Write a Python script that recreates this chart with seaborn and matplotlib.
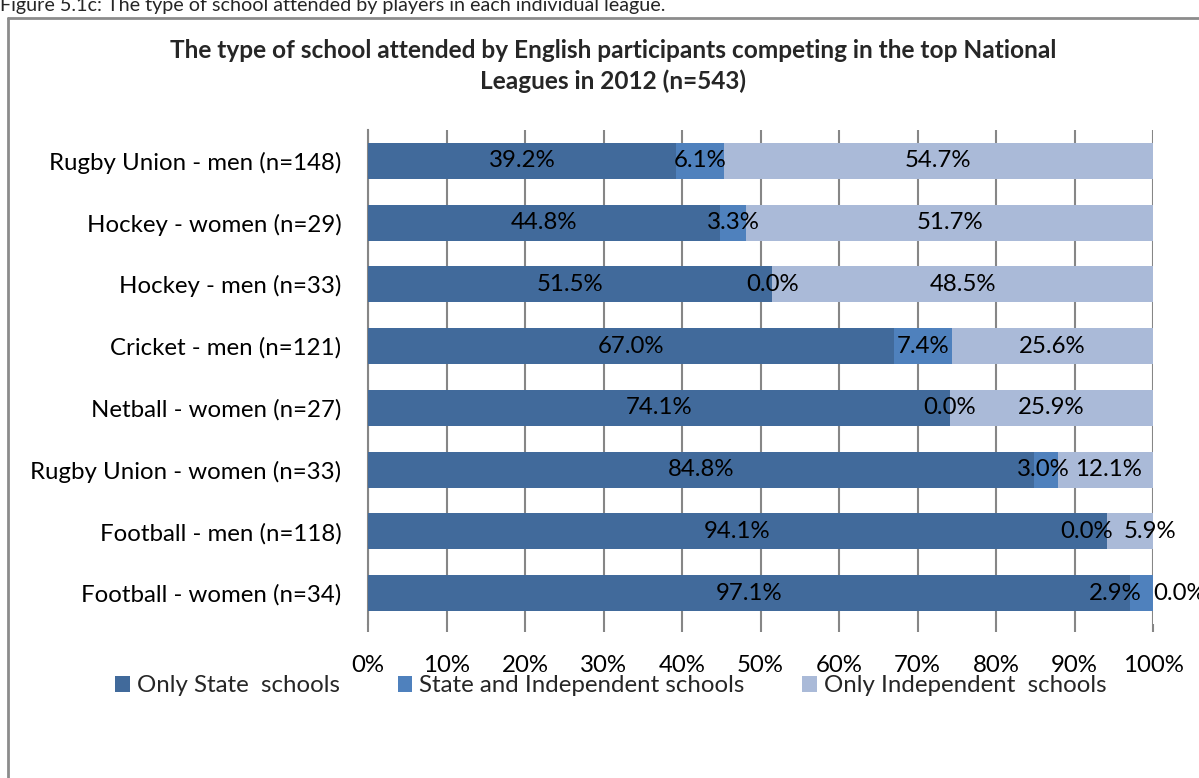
import matplotlib
matplotlib.use("Agg")
import matplotlib.pyplot as plt
import seaborn as sns
import pandas as pd
import numpy as np
from matplotlib.patches import Patch
from matplotlib.lines import Line2D

categories = ["Rugby Union - men (n=148)", "Hockey - women (n=29)", "Hockey - men (n=33)",
              "Cricket - men (n=121)", "Netball - women (n=27)", "Rugby Union - women (n=33)",
              "Football - men (n=118)", "Football - women (n=34)"]
only_state = [39.2, 44.8, 51.5, 67.0, 74.1, 84.8, 94.1, 97.1]
state_and_indep = [6.1, 3.3, 0.0, 7.4, 0.0, 3.0, 0.0, 2.9]
only_indep = [54.7, 51.7, 48.5, 25.6, 25.9, 12.1, 5.9, 0.0]
series_names = ["Only State  schools", "State and Independent schools", "Only Independent  schools"]
xticks = [0, 10, 20, 30, 40, 50, 60, 70, 80, 90, 100]

colors = ["#416A9B", "#4F81BD", "#AABAD8"]

sns.set_theme(style="white")
plt.rcParams['font.family'] = ['Lato', 'DejaVu Sans']

FS = 17.3
W, H = 1199, 778
fig = plt.figure(figsize=(W / 100, H / 100), dpi=100)
ax = fig.add_axes([368 / W, 1 - 624 / H, (1153 - 368) / W, (624 - 130) / H])

vals = np.array([only_state, state_and_indep, only_indep], dtype=float)
tot = vals.sum(axis=0)
norm = vals / tot * 100
cum = np.cumsum(norm, axis=0)

# draw cumulative totals, largest first, to produce stacked bars
for i in [2, 1, 0]:
    df = pd.DataFrame({"cat": categories, "v": cum[i]})
    sns.barplot(data=df, x="v", y="cat", orient="h", color=colors[i], width=0.58,
                saturation=1, ax=ax, zorder=3, edgecolor="none")

ax.set_xlim(0, 100)
ax.set_ylim(len(categories) - 0.5, -0.5)
ax.set_xticks(xticks)
ax.set_xticklabels([f"{t}%" for t in xticks])
ax.set_xlabel("")
ax.set_ylabel("")
ax.grid(axis="x", color="#868686", linewidth=1.5, zorder=0)
ax.set_axisbelow(True)
for s in ["top", "right", "bottom"]:
    ax.spines[s].set_visible(False)
ax.spines["left"].set_color("#868686")
ax.spines["left"].set_linewidth(1.5)
ax.tick_params(axis="x", length=6, width=1.5, color="#868686", direction="out",
               labelsize=FS, pad=16, bottom=True)
ax.tick_params(axis="y", length=0, labelsize=FS, pad=19)
for lab in ax.get_xticklabels() + ax.get_yticklabels():
    lab.set_color("black")

# data labels at segment centers, nudged apart when they collide
minsep = 8.2
for r in range(len(categories)):
    starts = np.concatenate([[0], cum[:-1, r]])
    centers = list(starts + norm[:, r] / 2)
    for _ in range(20):
        for j in range(len(centers) - 1):
            d = centers[j + 1] - centers[j]
            if d < minsep:
                shift = (minsep - d) / 2
                centers[j] -= shift
                centers[j + 1] += shift
    for j in range(3):
        ax.text(centers[j], r, f"{vals[j, r]:.1f}%", ha="center", va="center",
                fontsize=FS, color="black", zorder=5, clip_on=False)

# titles
fig.text(613 / W, 1 - 50 / H, "The type of school attended by English participants competing in the top National",
         ha="center", va="center", fontsize=17.6, fontweight="bold")
fig.text(613 / W, 1 - 81 / H, "Leagues in 2012 (n=543)",
         ha="center", va="center", fontsize=17.6, fontweight="bold")
fig.text(0 / W, 1 - 11 / H, "Figure 5.1c: The type of school attended by players in each individual league.",
         ha="left", va="baseline", fontsize=14.2)

# chart border
fig.add_artist(Line2D([8 / W, 8 / W], [0, 1 - 18 / H], transform=fig.transFigure,
                      color="#8C8C8C", linewidth=2))
fig.add_artist(Line2D([8 / W, 1], [1 - 18 / H, 1 - 18 / H], transform=fig.transFigure,
                      color="#8C8C8C", linewidth=2))

handles = [Patch(facecolor=c, edgecolor="none") for c in colors]
fig.legend(handles, series_names, loc="center", bbox_to_anchor=(611 / W, 1 - 686 / H),
           ncol=3, frameon=False, fontsize=FS, handlelength=0.6, handleheight=0.6,
           handletextpad=0.3, columnspacing=2.4)

fig.savefig("out.png", dpi=100)
